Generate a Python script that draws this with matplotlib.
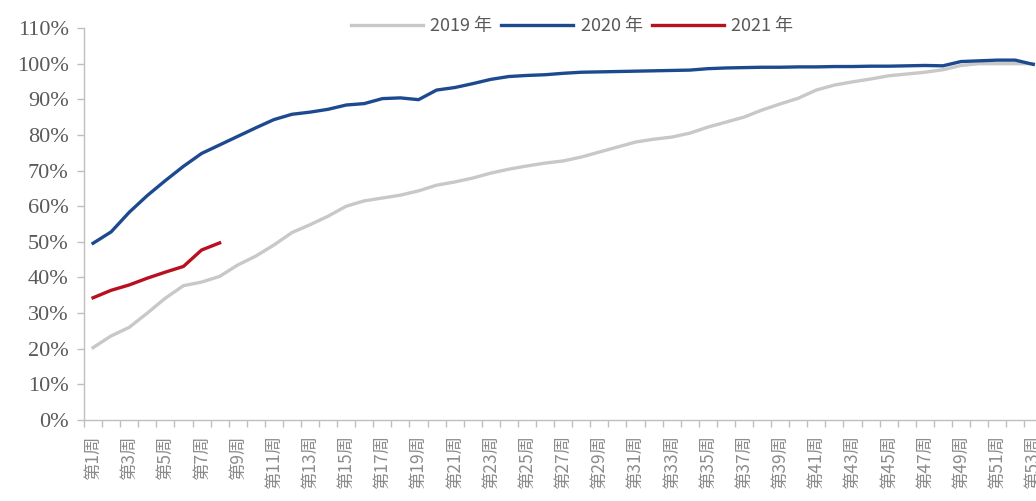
import numpy as np
import matplotlib.pyplot as plt
from matplotlib.ticker import PercentFormatter

plt.rcParams['font.family'] = ['Noto Sans CJK SC', 'DejaVu Sans']
plt.rcParams['axes.unicode_minus'] = False

# 周度累计进度（%）
weeks = [f'第{i}周' for i in range(1, 54)]

y2019 = [20.3, 23.6, 26.0, 30.0, 34.2, 37.7, 38.7, 40.3, 43.5, 46.0,
         49.1, 52.6, 54.8, 57.2, 60.0, 61.5, 62.3, 63.1, 64.3, 65.9,
         66.8, 67.9, 69.3, 70.4, 71.3, 72.1, 72.7, 73.8, 75.2, 76.6,
         78.0, 78.8, 79.4, 80.5, 82.2, 83.6, 85.0, 87.0, 88.7, 90.3,
         92.6, 94.0, 94.9, 95.7, 96.6, 97.1, 97.6, 98.3, 99.5, 100.0,
         100.0, 100.0, 100.0]

y2020 = [49.6, 52.8, 58.3, 63.0, 67.2, 71.2, 74.8, 77.2, 79.6, 82.0,
         84.3, 85.8, 86.4, 87.2, 88.4, 88.8, 90.2, 90.4, 89.9, 92.6,
         93.3, 94.4, 95.6, 96.4, 96.7, 96.9, 97.3, 97.6, 97.7, 97.8,
         97.9, 98.0, 98.1, 98.2, 98.6, 98.8, 98.9, 99.0, 99.0, 99.1,
         99.1, 99.2, 99.2, 99.3, 99.3, 99.4, 99.5, 99.4, 100.6, 100.8,
         101.0, 101.0, 99.8]

y2021 = [34.3, 36.4, 37.9, 39.8, 41.5, 43.1, 47.7, 49.7]

x = np.arange(len(weeks))

fig = plt.figure(figsize=(10.36, 5.01), dpi=100)
ax = fig.add_axes([0.0811, 0.1617, 0.9189, 0.7823])

ax.plot(x[:len(y2019)], np.array(y2019) / 100, color='#c8c8c8', lw=2.4, label='2019 年')
ax.plot(x[:len(y2020)], np.array(y2020) / 100, color='#1d4a8f', lw=2.4, label='2020 年')
ax.plot(x[:len(y2021)], np.array(y2021) / 100, color='#b8101e', lw=2.4, label='2021 年')

ax.set_xlim(-0.5, 52.15)
ax.set_ylim(0, 1.1)
ax.set_yticks(np.arange(0, 1.11, 0.1))
ax.yaxis.set_major_formatter(PercentFormatter(1.0, decimals=0))

# 刻度在类别之间，标签隔一个显示
ax.set_xticks(np.arange(-0.5, 52.5, 1), minor=True)
ax.set_xticks(x[::2])
ax.set_xticklabels(weeks[::2], rotation=90, fontsize=12.5, color='#8c8c8c')
ax.tick_params(axis='x', which='major', length=0, pad=11)
ax.tick_params(axis='x', which='minor', length=5, color='#bfbfbf', width=1)
ax.tick_params(axis='y', length=5, color='#bfbfbf', width=1, pad=6)
for lab in ax.get_yticklabels():
    lab.set_fontfamily('Liberation Serif')
    lab.set_fontsize(16)
    lab.set_color('#595959')

for s in ['top', 'right']:
    ax.spines[s].set_visible(False)
for s in ['left', 'bottom']:
    ax.spines[s].set_color('#bfbfbf')
    ax.spines[s].set_linewidth(1)

fig.legend(loc='center', bbox_to_anchor=(0.552, 0.948), ncol=3, frameon=False,
           fontsize=13, handlelength=4, handletextpad=0.4, columnspacing=0.5,
           labelcolor='#595959')

fig.savefig('out.png', dpi=100)
